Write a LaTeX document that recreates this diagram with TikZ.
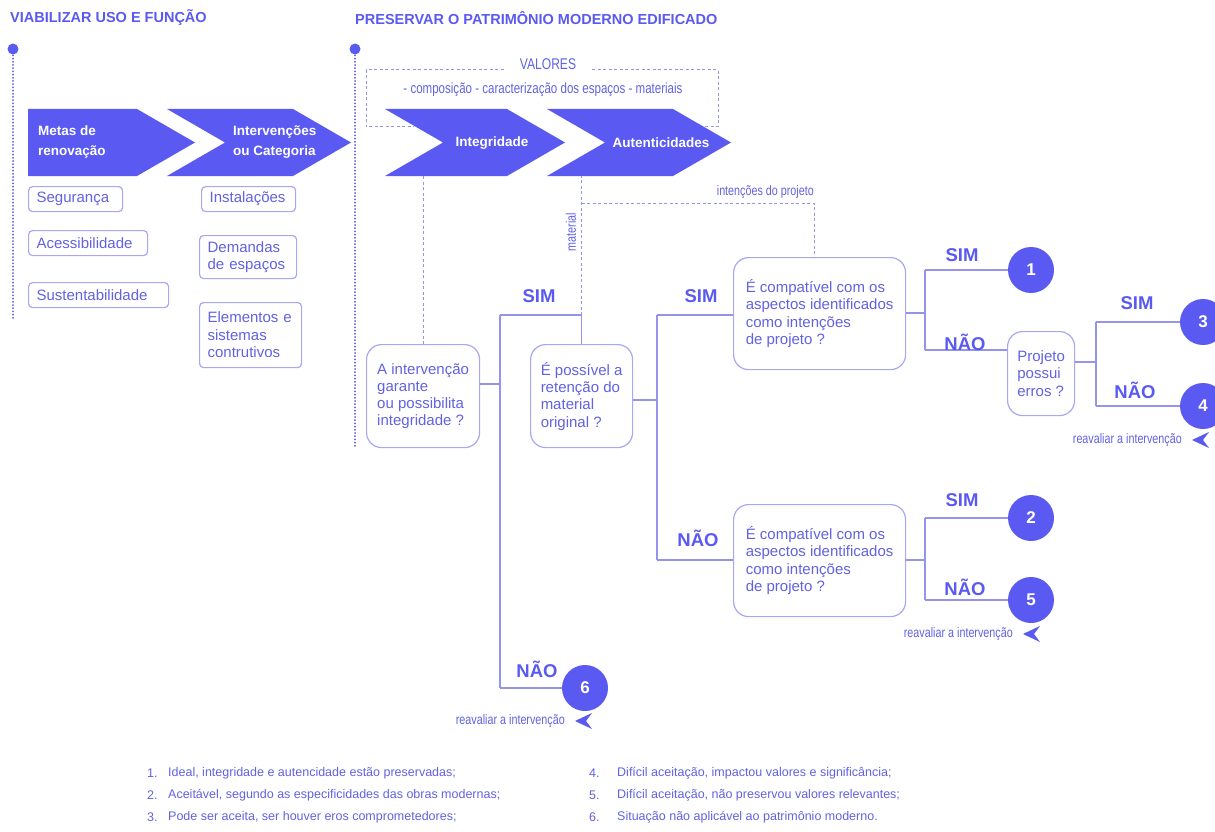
\documentclass[tikz,border=0pt]{standalone}
\usepackage{fontspec}
\setmainfont{Liberation Sans}
\newfontfamily\estreita[FakeStretch=0.78]{Liberation Sans}
\definecolor{violeta}{HTML}{5A5AF2}
\definecolor{texto}{HTML}{6262E2}
\definecolor{borda}{HTML}{A8A8F2}
\definecolor{linhacor}{HTML}{9494EC}
\tikzset{
  caixa/.style={draw=borda, line width=1.2pt, rounded corners=4pt, text=texto, font=\fontsize{15}{17.5}\selectfont, align=left, inner xsep=8pt, inner ysep=3pt, anchor=north west},
  questao/.style={draw=borda, line width=1.2pt, rounded corners=15pt, text=texto, font=\fontsize{15}{17.3}\selectfont, align=left, inner sep=0pt, anchor=north west},
  circulo/.style={circle, fill=violeta, text=white, font=\bfseries\fontsize{17}{17}\selectfont, minimum size=46pt, inner sep=0pt},
  resposta/.style={text=violeta, font=\bfseries\fontsize{18.5}{18.5}\selectfont, inner sep=0pt},
  linha/.style={draw=linhacor, line width=1.2pt},
  tracejado/.style={draw=linhacor, line width=1pt, dash pattern=on 3pt off 2.5pt},
  pontilhado/.style={draw=violeta, line width=2pt, dash pattern=on 0pt off 3.2pt, line cap=round},
  rotulo/.style={text=texto, font=\estreita\fontsize{13.8}{14}\selectfont, inner sep=0pt},
  titulo/.style={text=violeta, font=\bfseries\fontsize{14.5}{14.5}\selectfont, anchor=west, inner sep=0pt},
  seta/.style={text=white, font=\bfseries\fontsize{13.5}{20}\selectfont, align=left, inner sep=0pt},
  legenda/.style={text=texto, font=\fontsize{12.5}{13}\selectfont, anchor=west, inner sep=0pt}
}
\begin{document}
\begin{tikzpicture}[x=1pt,y=-1pt]
\useasboundingbox (0,0) rectangle (1215,832);
\fill[white] (0,0) rectangle (1215,832);
\clip (0,0) rectangle (1215,832);

\node[titulo] (tit1) at (10,18) {VIABILIZAR USO E FUNÇÃO};
\node[titulo] (tit2) at (355,18) {PRESERVAR O PATRIMÔNIO MODERNO EDIFICADO};
\foreach \n/\x/\y in {p1/13/318, p2/355/447} {
  \node[circle, fill=violeta, minimum size=11pt, inner sep=0pt] (\n) at (\x,49) {};
  \draw[pontilhado] (\n.center) -- (\x,\y);
}

\node[rotulo, anchor=base, inner xsep=16pt, font=\estreita\fontsize{15.5}{15.5}\selectfont] (valores) at (548,70) {VALORES};
\node[rotulo, font=\estreita\fontsize{14.8}{15}\selectfont] (lista) at (543,90) {- composição - caracterização dos espaços - materiais};
\draw[tracejado] (valores.base west) -| (366,127) -- (414,127);
\draw[tracejado] (valores.base east) -| (718,127) -- (688,127);

\foreach \l/\r/\d in {28/137/0, 167/293/58, 385/507/58, 547/673/58}
  \fill[violeta] (\l,109) -- (\r,109) -- ++(58,33.5) -- (\r,176) -- (\l,176) -- ++(\d,-33.5) -- cycle;
\node[seta, anchor=west] (metas) at (38,142) {Metas de\\renovação};
\node[seta, anchor=west] (interv) at (233,142) {Intervenções\\ou Categoria};
\node[seta] (integ) at (492,143) {Integridade};
\node[seta] (autent) at (661,143) {Autenticidades};

\foreach \n/\x/\y/\w/\h/\txt in {seg/28/186/94/25/Segurança, aces/28/230/119/25/Acessibilidade, sust/28/282/140/25/Sustentabilidade, inst/201/186/94/25/Instalações, dem/199/235/97/43/{Demandas\\de espaços}, elem/199/302/102/65/{Elementos e\\sistemas\\contrutivos}}
  \node[caixa, minimum height=\h, text width=\w pt-16pt] (\n) at (\x,\y) {\txt};

\node[questao, minimum width=113, minimum height=103] (q1) at (366,344) {A intervenção\\garante\\ou possibilita\\integridade ?};
\node[questao, minimum width=102, minimum height=103] (q2) at (530,344) {É possível a\\retenção do\\material\\original ?};
\node[questao, minimum width=172, minimum height=112] (q3) at (733,257) {É compatível com os\\aspectos identificados\\como intenções\\de projeto ?};
\node[questao, minimum width=67, minimum height=84] (q4) at (1007,331) {Projeto\\possui\\erros ?};
\node[questao, minimum width=172, minimum height=112] (q5) at (733,504) {É compatível com os\\aspectos identificados\\como intenções\\de projeto ?};

\foreach \n/\x/\y in {1/1031/270, 2/1031/518, 3/1203/322, 4/1203/406, 5/1031/600, 6/585/688}
  \node[circulo] (c\n) at (\x,\y) {\n};

\coordinate (d1) at (814,203);
\draw[tracejado] (q1.north) -- ++(0,-168);
\draw[tracejado] (q2.north) ++(0,-29) -- ++(0,-139);
\draw[tracejado] (q2.north |- d1) -- (d1) -- (d1 |- q3.north);
\node[rotulo, anchor=south east] (intenc) at (814,199) {intenções do projeto};
\node[rotulo, rotate=90] (mat) at (571,232) {material};

\foreach \j/\s/\n/\x/\yj/\ys/\yn in {j1/s1/n1/500/384/315/688, j2/s2/n2/657/400/315/560, j3/s3/n3/925/313/270/350, j4/s4/n4/1096/362/322/406, j5/s5/n5/925/560/518/600} {
  \coordinate (\j) at (\x,\yj);
  \coordinate (\s) at (\x,\ys);
  \coordinate (\n) at (\x,\yn);
  \draw[linha] (\s) -- (\n);
}
\draw[linha] (q1.east |- j1) -- (j1);
\draw[linha] (s1) -| (q2.north);
\draw[linha] (n1) -- (c6);
\draw[linha] (q2.east |- j2) -- (j2);
\draw[linha] (s2) -- (q3.west |- s2);
\draw[linha] (n2) -- (q5.west |- n2);
\draw[linha] (q3.east |- j3) -- (j3);
\draw[linha] (s3) -- (c1);
\draw[linha] (n3) -- (q4.west |- n3);
\draw[linha] (q4.east |- j4) -- (j4);
\draw[linha] (s4) -- (c3);
\draw[linha] (n4) -- (c4);
\draw[linha] (q5.east |- j5) -- (j5);
\draw[linha] (s5) -- (c2);
\draw[linha] (n5) -- (c5);

\foreach \n/\x/\y/\txt in {sim1/539/296/SIM, nao1/537/669/NÃO, sim2/701/296/SIM, nao2/698/538/NÃO, sim3/962/255/SIM, nao3/965/342/NÃO, sim4/1137/303/SIM, nao4/1135/390/NÃO, sim5/962/500/SIM, nao5/965/587/NÃO}
  \node[resposta] (\n) at (\x,\y) {\txt};

\foreach \n/\x/\y in {r4/1182/440, r5/1013/634, r6/565/721} {
  \node[rotulo, anchor=east] (\n) at (\x,\y) {reavaliar a intervenção};
  \fill[violeta] ([xshift=10pt]\n.east) -- ++(17,-8) -- ++(-6,8) -- ++(6,8) -- cycle;
}

\foreach \k/\x/\t/\y/\txt in {1/147/168/773/{Ideal, integridade e autencidade estão preservadas;}, 2/147/168/795/{Aceitável, segundo as especificidades das obras modernas;}, 3/147/168/817/{Pode ser aceita, ser houver eros comprometedores;}, 4/589/617/773/{Difícil aceitação, impactou valores e significância;}, 5/589/617/795/{Difícil aceitação, não preservou valores relevantes;}, 6/589/617/817/{Situação não aplicável ao patrimônio moderno.}} {
  \node[legenda] (num\k) at (\x,\y) {\k.};
  \node[legenda] (leg\k) at (\t,\y) {\txt};
}
\end{tikzpicture}
\end{document}
